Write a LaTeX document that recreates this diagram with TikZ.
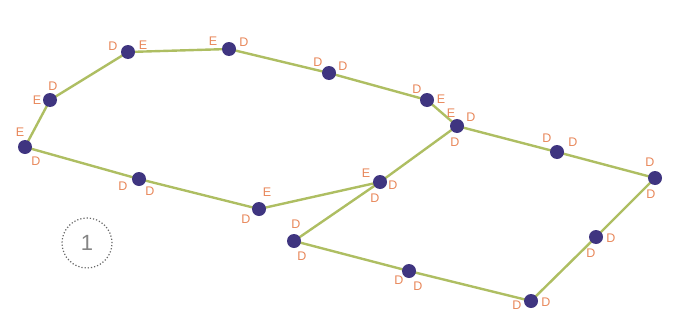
\documentclass[tikz,border=0pt]{standalone}
\usepackage{fontspec}
\setmainfont{Liberation Sans}
\definecolor{edgecol}{HTML}{AEBE62}
\definecolor{dotcol}{HTML}{3F3580}
\definecolor{labcol}{HTML}{E8875A}
\definecolor{ringcol}{HTML}{666666}
\begin{document}
\begin{tikzpicture}[x=1pt,y=-1pt,
  pt/.style={circle,fill=dotcol,inner sep=0pt,minimum size=14pt},
  lab/.style={text=labcol,font=\fontsize{12.5}{12.5}\selectfont,inner sep=0pt},
  edge/.style={draw=edgecol,line width=2.4pt}]
\useasboundingbox (0,0) rectangle (687,324);
% points
\coordinate (p1) at (128,52);
\coordinate (p2) at (229,49);
\coordinate (p3) at (329,73);
\coordinate (p4) at (427,100);
\coordinate (p5) at (457,126);
\coordinate (p6) at (557,152);
\coordinate (p7) at (655,178);
\coordinate (p8) at (596,237);
\coordinate (p9) at (531,301);
\coordinate (p10) at (409,271);
\coordinate (p11) at (294,241);
\coordinate (p12) at (380,182);
\coordinate (p13) at (259,209);
\coordinate (p14) at (139,179);
\coordinate (p15) at (25,147);
\coordinate (p16) at (50,100);
% edges
\draw[edge] (p15) -- (p16) -- (p1) -- (p2) -- (p3) -- (p4) -- (p5) -- (p6) -- (p7) -- (p8) -- (p9) -- (p10) -- (p11) -- (p12) -- (p13) -- (p14) -- (p15);
\draw[edge] (p12) -- (p5);
% dots
\foreach \i in {1,...,16} \node[pt] (n\i) at (p\i) {};
% labels
\node[lab] (l1a) at (113,46) {D};
\node[lab] (l1b) at (143,45) {E};
\node[lab] (l2a) at (213,41) {E};
\node[lab] (l2b) at (244,42) {D};
\node[lab] (l3a) at (318,62) {D};
\node[lab] (l3b) at (343,66) {D};
\node[lab] (l4a) at (417,89) {D};
\node[lab] (l4b) at (441,99) {E};
\node[lab] (l5a) at (451,113) {E};
\node[lab] (l5b) at (471,117) {D};
\node[lab] (l5c) at (455,142) {D};
\node[lab] (l6a) at (547,138) {D};
\node[lab] (l6b) at (573,142) {D};
\node[lab] (l7a) at (650,162) {D};
\node[lab] (l7b) at (651,194) {D};
\node[lab] (l8a) at (611,238) {D};
\node[lab] (l8b) at (591,253) {D};
\node[lab] (l9a) at (517,305) {D};
\node[lab] (l9b) at (546,302) {D};
\node[lab] (l10a) at (399,280) {D};
\node[lab] (l10b) at (418,286) {D};
\node[lab] (l11a) at (296,224) {D};
\node[lab] (l11b) at (302,256) {D};
\node[lab] (l12a) at (366,173) {E};
\node[lab] (l12b) at (393,185) {D};
\node[lab] (l12c) at (375,198) {D};
\node[lab] (l13a) at (267,192) {E};
\node[lab] (l13b) at (246,219) {D};
\node[lab] (l14a) at (123,186) {D};
\node[lab] (l14b) at (150,191) {D};
\node[lab] (l15a) at (20,132) {E};
\node[lab] (l15b) at (36,161) {D};
\node[lab] (l16a) at (53,86) {D};
\node[lab] (l16b) at (37,100) {E};
% circled number
\node[circle,draw=ringcol,dash pattern=on 1.2pt off 2pt,line width=1.2pt,minimum size=50pt,inner sep=0pt,
  text=ringcol!80,font=\fontsize{22}{22}\selectfont] (num) at (87,243) {1};
\end{tikzpicture}
\end{document}
